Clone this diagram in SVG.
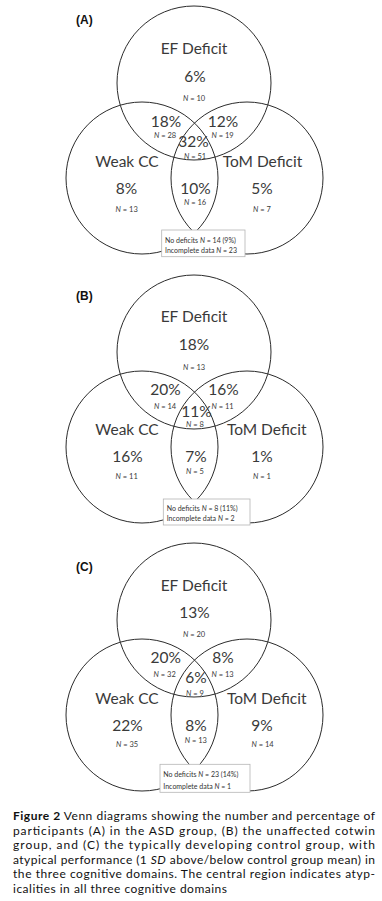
<svg xmlns="http://www.w3.org/2000/svg" width="382" height="901" viewBox="0 0 382 901">
<style>
.c{fill:none;stroke:#2b2b2b;stroke-width:1}
.t{font-family:Lato,"Open Sans",sans-serif;font-size:15.5px;fill:#3a3a3a;text-anchor:middle}
.n{font-family:Lato,"Open Sans",sans-serif;font-size:7.5px;fill:#3a3a3a;text-anchor:middle}
.i{font-style:italic}
.pl{font-family:"Liberation Sans",Arial,sans-serif;font-weight:bold;font-size:12px;fill:#111}
.box{fill:#fff;stroke:#b5b5b5;stroke-width:0.8}
.bt{font-family:Lato,"Open Sans",sans-serif;font-size:7px;fill:#333}
.cap{font-family:Lato,"Open Sans",sans-serif;font-size:12px;fill:#111}
</style>
<defs>
<g id="venn">
<circle class="c" cx="194" cy="83" r="77"/>
<circle class="c" cx="142" cy="178" r="76"/>
<circle class="c" cx="247" cy="178" r="76"/>
</g>
</defs>

<g id="panelA">
<text class="pl" x="76" y="24">(A)</text>
<g id="A-circles"><use href="#venn"/></g>
<g id="A-box"><rect class="box" x="161.7" y="230" width="83.3" height="26.7"/>
<text class="bt" x="165" y="242.5">No deficits <tspan class="i">N</tspan> = 14 (9%)</text>
<text class="bt" x="165" y="252.5">Incomplete data <tspan class="i">N</tspan> = 23</text></g>
<g id="A-ef"><text class="t" x="194" y="54">EF Deficit</text><text class="t" x="195" y="82">6%</text><text class="n" x="194" y="100.5"><tspan class="i">N</tspan> = 10</text></g>
<g id="A-ef-cc"><text class="t" x="166" y="127">18%</text><text class="n" x="165" y="138"><tspan class="i">N</tspan> = 28</text></g>
<g id="A-ef-tom"><text class="t" x="223" y="127">12%</text><text class="n" x="222.5" y="138"><tspan class="i">N</tspan> = 19</text></g>
<g id="A-all"><text class="t" x="193.5" y="147">32%</text><text class="n" x="195" y="159"><tspan class="i">N</tspan> = 51</text></g>
<g id="A-cc"><text class="t" x="127" y="167.3">Weak CC</text><text class="t" x="126.5" y="194">8%</text><text class="n" x="126.7" y="211.7"><tspan class="i">N</tspan> = 13</text></g>
<g id="A-cc-tom"><text class="t" x="195.5" y="194">10%</text><text class="n" x="195" y="205"><tspan class="i">N</tspan> = 16</text></g>
<g id="A-tom"><text class="t" x="262.5" y="167.3">ToM Deficit</text><text class="t" x="262" y="194">5%</text><text class="n" x="262" y="211.7"><tspan class="i">N</tspan> = 7</text></g>
</g>

<g id="panelB">
<text class="pl" x="76" y="300">(B)</text>
<g id="B-circles"><use href="#venn" transform="translate(0,269)"/></g>
<g id="B-box"><rect class="box" x="163.3" y="499" width="86.7" height="26"/>
<text class="bt" x="166.7" y="511">No deficits <tspan class="i">N</tspan> = 8 (11%)</text>
<text class="bt" x="166.7" y="520.7">Incomplete data <tspan class="i">N</tspan> = 2</text></g>
<g id="B-ef"><text class="t" x="194" y="322">EF Deficit</text><text class="t" x="194" y="350">18%</text><text class="n" x="194" y="370"><tspan class="i">N</tspan> = 13</text></g>
<g id="B-ef-cc"><text class="t" x="165.5" y="395">20%</text><text class="n" x="165" y="409"><tspan class="i">N</tspan> = 14</text></g>
<g id="B-ef-tom"><text class="t" x="223.5" y="395">16%</text><text class="n" x="222.5" y="409"><tspan class="i">N</tspan> = 11</text></g>
<g id="B-all"><text class="t" x="196.5" y="416.7">11%</text><text class="n" x="195" y="427"><tspan class="i">N</tspan> = 8</text></g>
<g id="B-cc"><text class="t" x="127" y="435">Weak CC</text><text class="t" x="127.5" y="462">16%</text><text class="n" x="126.7" y="478.7"><tspan class="i">N</tspan> = 11</text></g>
<g id="B-cc-tom"><text class="t" x="196" y="462">7%</text><text class="n" x="195" y="474"><tspan class="i">N</tspan> = 5</text></g>
<g id="B-tom"><text class="t" x="266.7" y="435">ToM Deficit</text><text class="t" x="262" y="462">1%</text><text class="n" x="262" y="478.7"><tspan class="i">N</tspan> = 1</text></g>
</g>

<g id="panelC">
<text class="pl" x="76" y="571">(C)</text>
<g id="C-circles"><use href="#venn" transform="translate(0,537)"/></g>
<g id="C-box"><rect class="box" x="160" y="764.3" width="90" height="28"/>
<text class="bt" x="163.3" y="777.3">No deficits <tspan class="i">N</tspan> = 23 (14%)</text>
<text class="bt" x="163.3" y="789">Incomplete data <tspan class="i">N</tspan> = 1</text></g>
<g id="C-ef"><text class="t" x="194" y="591">EF Deficit</text><text class="t" x="194.5" y="618">13%</text><text class="n" x="194" y="637"><tspan class="i">N</tspan> = 20</text></g>
<g id="C-ef-cc"><text class="t" x="165.8" y="663">20%</text><text class="n" x="164.7" y="677"><tspan class="i">N</tspan> = 32</text></g>
<g id="C-ef-tom"><text class="t" x="223" y="663">8%</text><text class="n" x="222.5" y="677"><tspan class="i">N</tspan> = 13</text></g>
<g id="C-all"><text class="t" x="196" y="683">6%</text><text class="n" x="195" y="695.7"><tspan class="i">N</tspan> = 9</text></g>
<g id="C-cc"><text class="t" x="127" y="704">Weak CC</text><text class="t" x="127.5" y="730.7">22%</text><text class="n" x="127" y="747"><tspan class="i">N</tspan> = 35</text></g>
<g id="C-cc-tom"><text class="t" x="196" y="730.7">8%</text><text class="n" x="195.8" y="743"><tspan class="i">N</tspan> = 13</text></g>
<g id="C-tom"><text class="t" x="266.7" y="704">ToM Deficit</text><text class="t" x="262" y="730.7">9%</text><text class="n" x="262.5" y="747"><tspan class="i">N</tspan> = 14</text></g>
</g>

<g id="connectors"></g>

<g id="caption">
<text class="cap" x="13" y="820" textLength="362" lengthAdjust="spacing"><tspan font-weight="bold">Figure 2</tspan> Venn diagrams showing the number and percentage of</text>
<text class="cap" x="13" y="834.5" textLength="362" lengthAdjust="spacing">participants (A) in the ASD group, (B) the unaffected cotwin</text>
<text class="cap" x="13" y="849" textLength="362" lengthAdjust="spacing">group, and (C) the typically developing control group, with</text>
<text class="cap" x="13" y="863.5" textLength="362" lengthAdjust="spacing">atypical performance (1 <tspan class="i">SD</tspan> above/below control group mean) in</text>
<text class="cap" x="13" y="878" textLength="362" lengthAdjust="spacing">the three cognitive domains. The central region indicates atyp-</text>
<text class="cap" x="13" y="892.5" textLength="214" lengthAdjust="spacing">icalities in all three cognitive domains</text>
</g>
</svg>
